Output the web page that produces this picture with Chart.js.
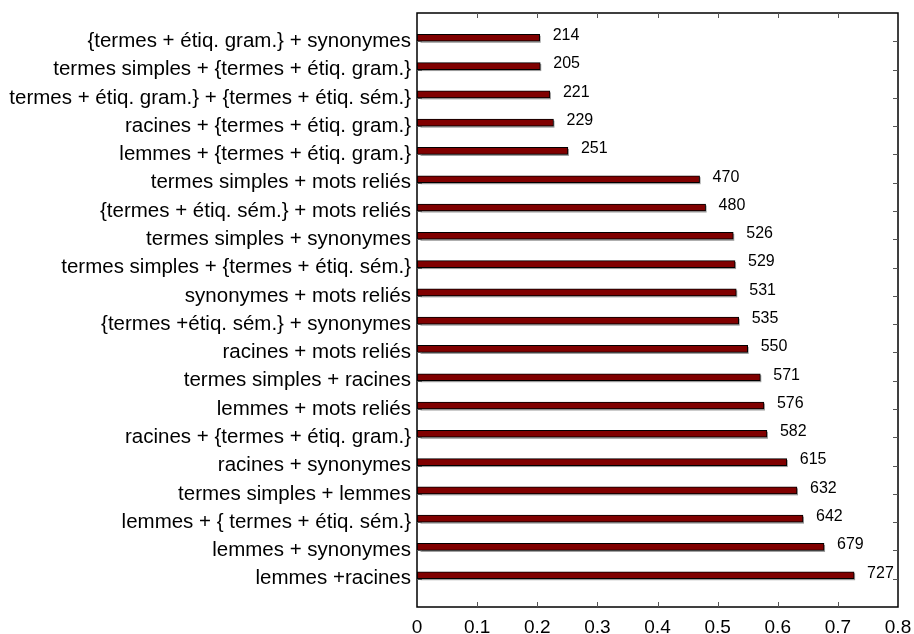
<!DOCTYPE html>
<html>
<head>
<meta charset="utf-8">
<script src="https://cdn.jsdelivr.net/npm/chart.js@4.4.1/dist/chart.umd.min.js"></script>
<style>
  body { margin: 0; background: #fff; }
  canvas { display: block; }
</style>
</head>
<body>
<canvas id="barChart" width="914" height="634"></canvas>
<script>
// categories, top to bottom
const categories = [
  "{termes + étiq. gram.} + synonymes",
  "termes simples + {termes + étiq. gram.}",
  "termes + étiq. gram.} + {termes + étiq. sém.}",
  "racines + {termes + étiq. gram.}",
  "lemmes + {termes + étiq. gram.}",
  "termes simples + mots reliés",
  "{termes + étiq. sém.} + mots reliés",
  "termes simples + synonymes",
  "termes simples + {termes + étiq. sém.}",
  "synonymes + mots reliés",
  "{termes +étiq. sém.} + synonymes",
  "racines + mots reliés",
  "termes simples + racines",
  "lemmes + mots reliés",
  "racines + {termes + étiq. gram.}",
  "racines + synonymes",
  "termes simples + lemmes",
  "lemmes + { termes + étiq. sém.}",
  "lemmes + synonymes",
  "lemmes +racines"
];
const scores = [0.204, 0.205, 0.221, 0.227, 0.251, 0.470, 0.480, 0.526, 0.529, 0.531,
                0.535, 0.550, 0.571, 0.577, 0.582, 0.615, 0.632, 0.642, 0.677, 0.727];
const smallBars = [0.006, 0.006, 0.006, 0.006, 0.006, 0.006, 0.006, 0.006, 0.006, 0.006,
                   0.006, 0.006, 0.006, 0.006, 0.006, 0.006, 0.006, 0.006, 0.006, 0.006];
const counts = [214, 205, 221, 229, 251, 470, 480, 526, 529, 531,
                535, 550, 571, 576, 582, 615, 632, 642, 679, 727];
const xTicks = [0, 0.1, 0.2, 0.3, 0.4, 0.5, 0.6, 0.7, 0.8];

const FONT = "'Liberation Sans', Arial, sans-serif";

// gray shadow under the red bars
const shadowPlugin = {
  id: "shadow",
  beforeDatasetsDraw(chart) {
    const ctx = chart.ctx;
    const meta = chart.getDatasetMeta(0);
    ctx.save();
    ctx.fillStyle = "#9a9a9a";
    meta.data.forEach(bar => {
      const h = bar.height;
      ctx.fillRect(bar.base + 1, bar.y - h / 2 + 1.5, bar.x - bar.base, h);
    });
    ctx.restore();
  }
};

// count labels at the end of each bar
const countLabels = {
  id: "countLabels",
  afterDatasetsDraw(chart) {
    const ctx = chart.ctx;
    const meta = chart.getDatasetMeta(0);
    ctx.save();
    ctx.font = "16px " + FONT;
    ctx.fillStyle = "#000";
    ctx.textAlign = "left";
    ctx.textBaseline = "middle";
    meta.data.forEach((bar, i) => {
      ctx.fillText(String(counts[i]), bar.x + 13, bar.y - 2);
    });
    ctx.restore();
  }
};

// box around the plot with inward ticks
const frame = {
  id: "frame",
  afterDraw(chart) {
    const ctx = chart.ctx;
    const a = chart.chartArea;
    const xs = chart.scales.x, ys = chart.scales.y;
    ctx.save();
    ctx.strokeStyle = "#000";
    ctx.lineWidth = 1.5;
    ctx.strokeRect(a.left, a.top, a.right - a.left, a.bottom - a.top);
    ctx.lineWidth = 1;
    ctx.beginPath();
    xTicks.slice(1, -1).forEach(v => {
      const px = Math.round(xs.getPixelForValue(v)) + 0.5;
      ctx.moveTo(px, a.bottom); ctx.lineTo(px, a.bottom - 5);
      ctx.moveTo(px, a.top); ctx.lineTo(px, a.top + 5);
    });
    categories.forEach((c, i) => {
      const py = Math.round(ys.getPixelForValue(i + 1)) + 0.5;
      ctx.moveTo(a.right, py); ctx.lineTo(a.right - 5, py);
      ctx.moveTo(a.left, py); ctx.lineTo(a.left + 5, py);
    });
    ctx.strokeStyle = "#555";
    ctx.stroke();
    ctx.restore();
  }
};

const ctx = document.getElementById("barChart").getContext("2d");
const chart = new Chart(ctx, {
  type: "bar",
  data: {
    datasets: [
      {
        data: scores.map((v, i) => ({ x: v, y: i + 1 })),
        backgroundColor: "#800000",
        borderColor: "#000",
        borderWidth: 1,
        borderSkipped: false,
        barThickness: 7,
      },
      {
        data: smallBars.map((v, i) => ({ x: v, y: i + 1 })),
        backgroundColor: "#ffffff",
        borderColor: "#777",
        borderWidth: { top: 1 },
        borderSkipped: false,
        barThickness: 7,
      },
    ],
  },
  options: {
    indexAxis: "y",
    responsive: false,
    animation: false,
    devicePixelRatio: 1,
    layout: { padding: { top: 13, right: 16, left: 0, bottom: 0 } },
    plugins: {
      legend: { display: false },
      tooltip: { enabled: false },
    },
    scales: {
      x: {
        type: "linear",
        min: 0,
        max: 0.8,
        grid: { display: false, drawTicks: false },
        border: { display: false },
        afterBuildTicks(scale) {
          scale.ticks = xTicks.map(v => ({ value: v }));
        },
        afterFit(scale) {
          scale.height = 27;
          scale.paddingLeft = 0;
          scale.paddingRight = 0;
        },
        ticks: {
          padding: 9,
          color: "#000",
          font: { family: FONT, size: 19 },
          maxRotation: 0,
          callback: v => v === 0 ? "0" : String(Math.round(v * 10) / 10),
        },
      },
      y: {
        type: "linear",
        min: 0,
        max: 21,
        offset: false,
        reverse: true,
        grid: { display: false, drawTicks: false },
        border: { display: false },
        afterBuildTicks(scale) {
          scale.ticks = categories.map((c, i) => ({ value: i + 1 }));
        },
        afterFit(scale) {
          scale.width = 417;
          scale.paddingTop = 0;
          scale.paddingBottom = 0;
        },
        ticks: {
          autoSkip: false,
          padding: 6,
          color: "#000",
          font: { family: FONT, size: 20.5 },
          callback: v => categories[v - 1] || "",
        },
      },
    },
  },
  plugins: [shadowPlugin, countLabels, frame],
});
</script>
</body>
</html>
